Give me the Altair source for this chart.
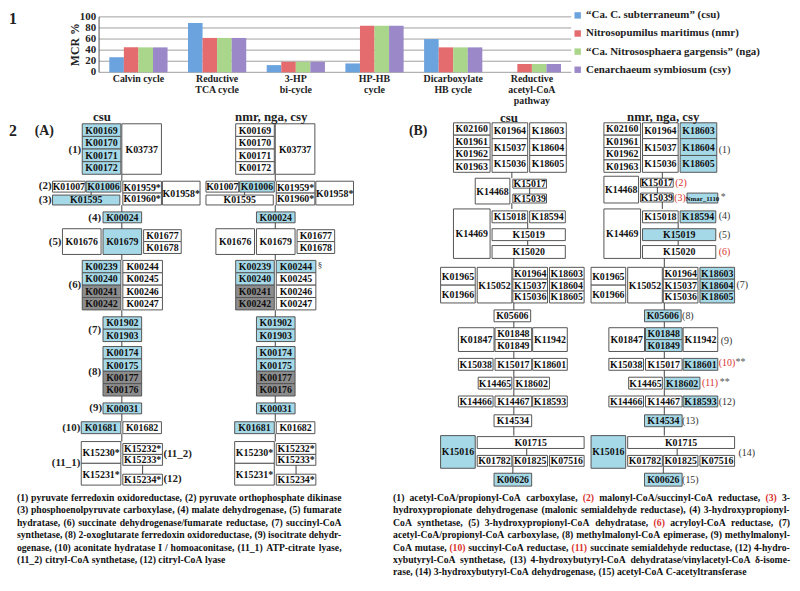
import altair as alt
import pandas as pd

# ---------------- Part 1: bar chart data ----------------
PATHWAYS = ["Calvin cycle", "Reductive\nTCA cycle", "3-HP\nbi-cycle", "HP-HB\ncycle",
            "Dicarboxylate\nHB cycle", "Reductive\nacetyl-CoA\npathway"]
SPECIES = ["\u201cCa. C. subterraneum\u201d (csu)", "Nitrosopumilus maritimus (nmr)",
           "\u201cCa. Nitrososphaera gargensis\u201d (nga)", "Cenarchaeum symbiosum (csy)"]
MCR_CSU = [27, 89, 13, 16, 60, 0]
MCR_NMR = [45, 62, 19, 84, 45, 15]
MCR_NGA = [45, 62, 19, 84, 45, 15]
MCR_CSY = [45, 62, 19, 84, 45, 15]
Y_TICKS = [0, 20, 40, 60, 80, 100]
SPECIES_COLORS = ["#6aa3de", "#e46c6e", "#a9d68a", "#9b88c8"]

# ---------------- Part 2 (A): KEGG orthologs ----------------
A_LABELS = ["K00169", "K00170", "K00171", "K00172", "K03737",
            "K01007", "K01006", "K01959*", "K01960*", "K01958*", "K01595",
            "K00024", "K01676", "K01679", "K01677", "K01678",
            "K00239", "K00240", "K00241", "K00242", "K00244", "K00245", "K00246", "K00247",
            "K01902", "K01903", "K00174", "K00175", "K00177", "K00176",
            "K00031", "K01681", "K01682",
            "K15230*", "K15231*", "K15232*", "K15233*", "K15234*"]
A_STATUS_CSU = list("bbbbw" "wbwwwb" "bwbww" "bbggwwww" "bbbbgg" "bbw" "wwwww")
A_STATUS_NMR = list("wwwww" "wbwwww" "bwwww" "bbggbwww" "bbbbgg" "bbw" "wwwww")

# ---------------- Part 2 (B) ----------------
B_LABELS = ["K02160", "K01961", "K01962", "K01963", "K01964", "K15037", "K15036",
            "K18603", "K18604", "K18605", "K14468", "K15017", "K15039",
            "K14469", "K15018", "K18594", "K15019", "K15020",
            "K01965", "K01966", "K15052", "K01964", "K15037", "K15036",
            "K18603", "K18604", "K18605", "K05606",
            "K01847", "K01848", "K01849", "K11942",
            "K15038", "K15017", "K18601", "K14465", "K18602",
            "K14466", "K14467", "K18593", "K14534",
            "K15016", "K01715", "K01782", "K01825", "K07516", "K00626"]
B_STATUS_CSU = list("wwwwwwwwww" "www" "wwwww" "wwwwww" "wwww" "wwww" "wwwww" "wwww" "bwwwwb")
B_STATUS_NMR = list("wwwwwwwbbb" "www" "wwbbw" "wwwwww" "bbbb" "wbbw" "wwbwb" "wwbb" "bwwwwb")

# ---------------- layout (reference pixel coordinates) ----------------
A_BOX = [(83, 122, 122, 134.75), (83, 122, 134.75, 147.5), (83, 122, 147.5, 160.25),
         (83, 122, 160.25, 173), (123, 163, 122, 173),
         (53, 86, 180, 191), (87, 122, 180, 191), (124, 163, 180, 192), (124, 163, 192, 204),
         (164, 202, 180, 204), (53, 121, 194, 204),
         (104, 143, 211, 222), (63, 102, 228, 254), (104, 143, 228, 254),
         (145, 183, 229, 241), (145, 183, 241, 253),
         (83, 122, 260, 272.5), (83, 122, 272.5, 285), (83, 122, 285, 297.5), (83, 122, 297.5, 310),
         (124, 164, 260, 272.5), (124, 164, 272.5, 285), (124, 164, 285, 297.5), (124, 164, 297.5, 310),
         (104, 143, 317, 329.5), (104, 143, 329.5, 342),
         (104, 143, 347, 359.5), (104, 143, 359.5, 372), (104, 143, 372, 384.5), (104, 143, 384.5, 397),
         (104, 143, 404, 415), (82, 122, 423, 435), (124, 163, 423, 435),
         (82, 122, 443, 465), (82, 122, 465, 487), (124, 164, 445, 456), (124, 164, 456, 467),
         (124, 164, 476, 487)]
A_LINKS = [(123, 173, 180), (92, 191, 194), (123, 204, 211), (123, 222, 228), (123, 254, 260),
           (123, 310, 317), (123, 342, 347), (123, 397, 404), (123, 415, 423), (123, 435, 443),
           (144, 467, 476)]
A_SHIFT = 155

B_BOX = [(458, 495, 121, 133.5), (458, 495, 133.5, 146), (458, 495, 146, 158.5), (458, 495, 158.5, 171),
         (497, 533, 121, 137), (497, 533, 137, 154), (497, 533, 154, 171),
         (535, 572, 121, 137), (535, 572, 137, 154), (535, 572, 154, 171),
         (480, 515, 177, 203), (518, 552, 178, 187), (518, 552, 193, 202),
         (458, 495, 208, 258), (497, 533, 210, 222), (535, 571, 210, 222),
         (497, 571, 228, 240), (497, 571, 245, 258),
         (445, 480, 267, 285), (445, 480, 285, 303), (482, 517, 267, 303),
         (518, 553, 267, 279), (518, 553, 279, 291), (518, 553, 291, 303),
         (555, 590, 267, 279), (555, 590, 279, 291), (555, 590, 291, 303),
         (499, 536, 310, 322),
         (463, 499, 328, 352), (500, 537, 328, 340), (500, 537, 340, 352), (538, 573, 328, 352),
         (463, 498, 359, 371), (500, 537, 359, 371), (538, 573, 359, 371),
         (483, 517, 378, 390), (519, 555, 378, 390),
         (463, 498, 397, 408), (500, 537, 397, 408), (538, 573, 397, 408),
         (499, 537, 416, 428),
         (445, 480, 437, 470), (482, 590, 438, 450),
         (482, 517, 457, 468), (518, 553, 457, 468), (555, 590, 457, 468),
         (499, 537, 475, 488)]
B_SHIFT = 152
B_NMR_OVERRIDE = {10: (610, 645, 175, 202), 11: (647, 680, 177, 186), 12: (647, 680, 192, 201)}
B_LINKS = [(517, 171, 177), (535, 187, 193), (517, 202, 208), (533, 222, 228), (533, 240, 245),
           (519, 258, 267), (519, 303, 310), (519, 322, 328), (519, 352, 359), (519, 371, 378),
           (519, 390, 397), (519, 408, 416), (519, 428, 437), (532, 450, 457), (518, 468, 475)]
B_NMR_LINKS = [(669, 171, 177), (664, 186, 192), (669, 201, 208), (685, 222, 228), (685, 240, 245),
               (671, 258, 267), (671, 303, 310), (671, 322, 328), (671, 352, 359), (671, 371, 378),
               (671, 390, 397), (671, 408, 416), (671, 428, 437), (684, 450, 457), (670, 468, 475)]
NMAR_BOX = ("Nmar_1110", 694, 725, 192, 202)

A_NUMS_R = [("(1)", 82, 149), ("(2)", 52, 185), ("(3)", 52, 199), ("(4)", 102, 217),
            ("(5)", 62, 241), ("(6)", 82, 285), ("(7)", 102, 330), ("(8)", 102, 373),
            ("(9)", 103, 409), ("(10)", 81, 429), ("(11_1)", 81, 465)]
A_NUMS_L = [("(11_2)", 165, 456), ("(12)", 165, 481)]
B_NUMS = [("(1)", 726, 148, "#333333"), ("(2)", 682, 182, "#d9302c"), ("(3)", 681, 197, "#d9302c"),
          ("*", 728, 196, "#555555"), ("(4)", 726, 215, "#333333"), ("(5)", 726, 234, "#333333"),
          ("(6)", 726, 252, "#d9302c"), ("(7)", 744, 285, "#333333"), ("(8)", 689, 316, "#333333"),
          ("(9)", 728, 341, "#333333"), ("(10)", 726, 364, "#d9302c"), ("**", 743, 363, "#555555"),
          ("(11)", 709, 384, "#d9302c"), ("**", 727, 383, "#555555"), ("(12)", 726, 403, "#333333"),
          ("(13)", 689, 422, "#333333"), ("(14)", 746, 455, "#333333"), ("(15)", 689, 482, "#333333")]
HEADERS = [("csu", 103, 115), ("nmr, nga, csy", 274, 115), ("csu", 514, 116), ("nmr, nga, csy", 670, 115)]
SECTIONS = [("1", 9, 16, 16), ("2", 9, 129, 16), ("(A)", 35, 129, 14), ("(B)", 413, 129, 14)]

# captions; a leading "^" marks a red token
CAPTION_A = [
    "(1) pyruvate ferredoxin oxidoreductase, (2) pyruvate orthophosphate dikinase",
    "(3) phosphoenolpyruvate carboxylase, (4) malate dehydrogenase, (5) fumarate",
    "hydratase, (6) succinate dehydrogenase/fumarate reductase, (7) succinyl-CoA",
    "synthetase, (8) 2-oxoglutarate ferredoxin oxidoreductase, (9) isocitrate dehydr-",
    "ogenase, (10) aconitate hydratase I / homoaconitase, (11_1) ATP-citrate lyase,",
    "(11_2) citryl-CoA synthetase, (12) citryl-CoA lyase",
]
CAPTION_B = [
    "(1) acetyl-CoA/propionyl-CoA carboxylase, ^(2) malonyl-CoA/succinyl-CoA reductase, ^(3) 3-",
    "hydroxypropionate dehydrogenase (malonic semialdehyde reductase), (4) 3-hydroxypropionyl-",
    "CoA synthetase, (5) 3-hydroxypropionyl-CoA dehydratase, ^(6) acryloyl-CoA reductase, (7)",
    "acetyl-CoA/propionyl-CoA carboxylase, (8) methylmalonyl-CoA epimerase, (9) methylmalonyl-",
    "CoA mutase, ^(10) succinyl-CoA reductase, ^(11) succinate semialdehyde reductase, (12) 4-hydro-",
    "xybutyryl-CoA synthetase, (13) 4-hydroxybutyryl-CoA dehydratase/vinylacetyl-CoA \u03b4-isome-",
    "rase, (14) 3-hydroxybutyryl-CoA dehydrogenase, (15) acetyl-CoA C-acetyltransferase",
]
CAP_A_X = (17, 345)
CAP_B_X = (397, 798)
CAP_Y0, CAP_DY = 500, 12.55
CAP_SIZE = 9.8
RED = "#d9302c"
BLK = "#111111"

FILLS = {"b": "#a6d9e8", "g": "#8c8c8c", "w": "#ffffff"}
FONT = "Liberation Serif"

# Times-Bold advance widths (1/1000 em) for caption justification
_TB = {" ": 250, "(": 333, ")": 333, "*": 500, ",": 250, "-": 333, ".": 250, "/": 278, "_": 500,
       "A": 722, "B": 667, "C": 722, "D": 722, "E": 667, "F": 611, "G": 778, "H": 778, "I": 389,
       "K": 778, "L": 667, "M": 944, "N": 722, "O": 778, "P": 611, "R": 722, "S": 556, "T": 667,
       "a": 500, "b": 556, "c": 444, "d": 556, "e": 444, "f": 333, "g": 500, "h": 556, "i": 278,
       "j": 333, "k": 556, "l": 278, "m": 833, "n": 556, "o": 500, "p": 556, "q": 556, "r": 444,
       "s": 389, "t": 333, "u": 556, "v": 500, "w": 722, "x": 500, "y": 500, "z": 444}


def text_w(s, size):
    return sum(_TB.get(ch, 500) for ch in s) / 1000.0 * size


def justify(lines, x0, x1):
    rows = []
    for i, line in enumerate(lines):
        toks = line.split(" ")
        words = [(t[1:], RED) if t.startswith("^") else (t, BLK) for t in toks]
        widths = [text_w(w, CAP_SIZE) for w, _ in words]
        sp = 0.25 * CAP_SIZE
        natural = sum(widths) + sp * (len(words) - 1)
        last = i == len(lines) - 1
        gap = sp if last else sp + (x1 - x0 - natural) / (len(words) - 1)
        x = x0
        for (w, c), wd in zip(words, widths):
            rows.append(dict(t=w, x=x, y=CAP_Y0 + i * CAP_DY, c=c))
            x += wd + gap
    return rows


# ---------------- build tables ----------------
W, H = 792, 583
OFF = 8
boxes = []
for lab, g, sc, sn in zip(A_LABELS, A_BOX, A_STATUS_CSU, A_STATUS_NMR):
    boxes.append(dict(label=lab, x0=g[0], x1=g[1], y0=g[2], y1=g[3], fill=FILLS[sc]))
    boxes.append(dict(label=lab, x0=g[0] + A_SHIFT, x1=g[1] + A_SHIFT, y0=g[2], y1=g[3], fill=FILLS[sn]))
for i, (lab, g, sc, sn) in enumerate(zip(B_LABELS, B_BOX, B_STATUS_CSU, B_STATUS_NMR)):
    boxes.append(dict(label=lab, x0=g[0], x1=g[1], y0=g[2], y1=g[3], fill=FILLS[sc]))
    gn = B_NMR_OVERRIDE.get(i, (g[0] + B_SHIFT, g[1] + B_SHIFT, g[2], g[3]))
    boxes.append(dict(label=lab, x0=gn[0], x1=gn[1], y0=gn[2], y1=gn[3], fill=FILLS[sn]))
box_df = pd.DataFrame(boxes)
box_df["cx"] = (box_df.x0 + box_df.x1) / 2
box_df["cy"] = (box_df.y0 + box_df.y1) / 2 + 0.5
nmar_df = pd.DataFrame([dict(label=NMAR_BOX[0], x0=NMAR_BOX[1], x1=NMAR_BOX[2], y0=NMAR_BOX[3],
                             y1=NMAR_BOX[4], fill=FILLS["b"])])
nmar_df["cx"] = (nmar_df.x0 + nmar_df.x1) / 2
nmar_df["cy"] = (nmar_df.y0 + nmar_df.y1) / 2 + 0.5

links = [dict(x=x, y0=a, y1=b) for x, a, b in A_LINKS]
links += [dict(x=x + A_SHIFT, y0=a, y1=b) for x, a, b in A_LINKS]
links += [dict(x=x, y0=a, y1=b) for x, a, b in B_LINKS + B_NMR_LINKS]
link_df = pd.DataFrame(links)

numsR_df = pd.DataFrame(A_NUMS_R, columns=["t", "x", "y"])
numsL_df = pd.DataFrame(A_NUMS_L, columns=["t", "x", "y"])
bnums_df = pd.DataFrame(B_NUMS, columns=["t", "x", "y", "c"])
head_df = pd.DataFrame(HEADERS, columns=["t", "x", "y"])
sec_df = pd.DataFrame(SECTIONS, columns=["t", "x", "y", "s"])
cap_df = pd.DataFrame(justify(CAPTION_A, *CAP_A_X) + justify(CAPTION_B, *CAP_B_X))
sect_df = pd.DataFrame([dict(t="\u00a7", x=321, y=265)])

xs = alt.Scale(domain=[OFF, OFF + W], range=[0, W], nice=False, zero=False)
ys = alt.Scale(domain=[OFF, OFF + H], range=[0, H], nice=False, zero=False)


def X(f):
    return alt.X(f, type="quantitative", scale=xs, axis=None)


def Y(f):
    return alt.Y(f, type="quantitative", scale=ys, axis=None)


rects = alt.Chart(box_df).mark_rect(stroke="#555555", strokeWidth=1).encode(
    x=X("x0"), x2="x1:Q", y=Y("y0"), y2="y1:Q", fill=alt.Fill("fill:N", scale=None))
rect_txt = alt.Chart(box_df).mark_text(font=FONT, fontWeight="bold", fontSize=10,
                                       baseline="middle", color="#111").encode(
    x=X("cx"), y=Y("cy"), text="label:N")
nmar_rect = alt.Chart(nmar_df).mark_rect(stroke="#555555", strokeWidth=1).encode(
    x=X("x0"), x2="x1:Q", y=Y("y0"), y2="y1:Q", fill=alt.Fill("fill:N", scale=None))
nmar_txt = alt.Chart(nmar_df).mark_text(font=FONT, fontWeight="bold", fontSize=7,
                                        baseline="middle", color="#111").encode(
    x=X("cx"), y=Y("cy"), text="label:N")
link_rules = alt.Chart(link_df).mark_rule(color="#444444", strokeWidth=1).encode(
    x=X("x"), y=Y("y0"), y2="y1:Q")
numsR = alt.Chart(numsR_df).mark_text(font=FONT, fontWeight="bold", fontSize=11, align="right",
                                      baseline="middle", color="#222").encode(
    x=X("x"), y=Y("y"), text="t:N")
numsL = alt.Chart(numsL_df).mark_text(font=FONT, fontWeight="bold", fontSize=11, align="left",
                                      baseline="middle", color="#222").encode(
    x=X("x"), y=Y("y"), text="t:N")
bnums = alt.Chart(bnums_df).mark_text(font=FONT, fontSize=10, align="left",
                                      baseline="middle").encode(
    x=X("x"), y=Y("y"), text="t:N", fill=alt.Fill("c:N", scale=None))
sect_mark = alt.Chart(sect_df).mark_text(font=FONT, fontSize=9, align="left",
                                         baseline="middle", color="#333").encode(
    x=X("x"), y=Y("y"), text="t:N")
heads = alt.Chart(head_df).mark_text(font=FONT, fontWeight="bold", fontSize=13,
                                     baseline="middle", color="#222").encode(
    x=X("x"), y=Y("y"), text="t:N")
secs = alt.Chart(sec_df).mark_text(font=FONT, fontWeight="bold", align="left",
                                   baseline="middle", color="#222").encode(
    x=X("x"), y=Y("y"), text="t:N", size=alt.Size("s:Q", scale=None))
caps = alt.Chart(cap_df).mark_text(font=FONT, fontWeight="bold", fontSize=CAP_SIZE, align="left",
                                   baseline="middle").encode(
    x=X("x"), y=Y("y"), text="t:N", fill=alt.Fill("c:N", scale=None))

diagram = alt.layer(rects, rect_txt, nmar_rect, nmar_txt, link_rules, numsR, numsL, bnums,
                    sect_mark, heads, secs, caps)

# ---------------- bar chart (own scales) ----------------
bar_rows = []
for i, p in enumerate(PATHWAYS):
    for s, vals in zip(SPECIES, [MCR_CSU, MCR_NMR, MCR_NGA, MCR_CSY]):
        bar_rows.append(dict(pathway=p, species=s, value=vals[i]))
bar_df = pd.DataFrame(bar_rows)
tick_df = pd.DataFrame({"tick": Y_TICKS})
cat_df = pd.DataFrame({"pathway": PATHWAYS})
BAR_ZERO, BAR_TOP = 70, 14
bx_scale = alt.Scale(domain=PATHWAYS, range=[100 - OFF, 577 - OFF], paddingInner=0.26, paddingOuter=0.13)
by_scale = alt.Scale(domain=[0, 100], range=[BAR_ZERO - OFF, BAR_TOP - OFF], nice=False)

grid = alt.Chart(tick_df).mark_rule(color="#a0a0a0", strokeWidth=1).encode(
    y=alt.Y("tick:Q", scale=by_scale, axis=None),
    x=alt.value(100 - OFF), x2=alt.value(577 - OFF))
yline = alt.Chart(tick_df).mark_rule(color="#555555", strokeWidth=1).encode(
    y=alt.Y("min(tick):Q", scale=by_scale, axis=None), y2="max(tick):Q",
    x=alt.value(100 - OFF))
bars = alt.Chart(bar_df).mark_bar().encode(
    x=alt.X("pathway:N", sort=PATHWAYS, scale=bx_scale, axis=None),
    xOffset=alt.XOffset("species:N", sort=SPECIES, scale=alt.Scale(domain=SPECIES)),
    y=alt.Y("value:Q", scale=by_scale, axis=None),
    color=alt.Color("species:N", sort=SPECIES,
                    scale=alt.Scale(domain=SPECIES, range=SPECIES_COLORS),
                    legend=alt.Legend(orient="none", legendX=578 - OFF, legendY=-1, title=None,
                                      symbolType="square", symbolSize=42, symbolStrokeWidth=0,
                                      labelFont=FONT, labelFontWeight="bold", labelFontSize=11,
                                      labelColor="#222", labelLimit=320, rowPadding=6.3,
                                      labelOffset=3)))
ylabels = alt.Chart(tick_df).mark_text(font=FONT, fontWeight="bold", fontSize=11, align="right",
                                       baseline="middle", color="#222").encode(
    y=alt.Y("tick:Q", scale=by_scale, axis=None), x=alt.value(97 - OFF), text="tick:Q")
ytitle = alt.Chart(pd.DataFrame({"t": ["MCR %"], "v": [50]})).mark_text(
    font=FONT, fontWeight="bold", fontSize=12, angle=270, baseline="middle", color="#222").encode(
    y=alt.Y("v:Q", scale=by_scale, axis=None), x=alt.value(76 - OFF), text="t:N")
xlabels = alt.Chart(cat_df).mark_text(font=FONT, fontWeight="bold", fontSize=10, lineBreak="\n",
                                      baseline="top", lineHeight=11, color="#222").encode(
    x=alt.X("pathway:N", sort=PATHWAYS, scale=bx_scale, axis=None, bandPosition=0.5),
    y=alt.value(BAR_ZERO + 2 - OFF), text="pathway:N")

barpart = alt.layer(grid, bars, yline, ylabels, ytitle, xlabels)

chart = alt.layer(diagram, barpart).resolve_scale(
    x="independent", y="independent", color="independent", fill="independent", size="independent"
).properties(
    width=W, height=H, autosize=alt.AutoSizeParams(type="none"), padding=0,
    background="white"
).configure_view(stroke=None)

chart.save("out.html", embed_options={"renderer": "svg", "actions": False})
